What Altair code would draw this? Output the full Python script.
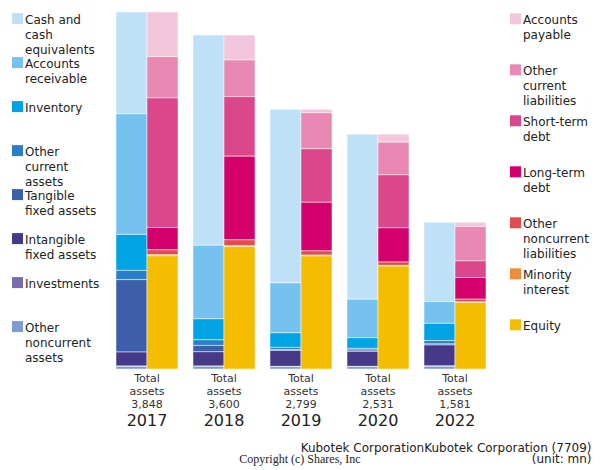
import altair as alt
import pandas as pd

# ---------------- data (millions of yen) ----------------
years = ["2017", "2018", "2019", "2020", "2022"]
total_assets = [3848, 3600, 2799, 2531, 1581]

asset_items = ["Cash and cash equivalents", "Accounts receivable", "Inventory",
               "Other current assets", "Tangible fixed assets",
               "Intangible fixed assets", "Investments", "Other noncurrent assets"]
asset_labels = ["Cash and\ncash\nequivalents", "Accounts\nreceivable", "Inventory",
                "Other\ncurrent\nassets", "Tangible\nfixed assets",
                "Intangible\nfixed assets", "Investments", "Other\nnoncurrent\nassets"]
asset_colors = ["#bfe1f7", "#76c2ee", "#00a3e4", "#2a80c8",
                "#3d5ea8", "#463a88", "#7b6aad", "#7c9bd2"]

cash = [1097, 2266, 1871, 1778, 855]
receivable = [1300, 793, 538, 416, 234]
inventory = [388, 226, 157, 115, 186]
other_current = [100, 61, 22, 18, 36]
tangible = [780, 68, 11, 14, 11]
intangible = [151, 155, 172, 162, 226]
investments = [5, 3, 3, 3, 5]
other_noncurrent = [27, 28, 25, 25, 28]
asset_values = [cash, receivable, inventory, other_current,
                tangible, intangible, investments, other_noncurrent]

liab_items = ["Accounts payable", "Other current liabilities", "Short-term debt",
              "Long-term debt", "Other noncurrent liabilities",
              "Minority interest", "Equity"]
liab_labels = ["Accounts\npayable", "Other\ncurrent\nliabilities", "Short-term\ndebt",
               "Long-term\ndebt", "Other\nnoncurrent\nliabilities",
               "Minority\ninterest", "Equity"]
liab_colors = ["#f4c6dc", "#e888b3", "#dc468b", "#d4006b",
               "#e04d4f", "#ee8c3c", "#f5bd00"]

payable = [481, 269, 37, 86, 46]
other_cur_liab = [445, 395, 388, 352, 370]
short_debt = [1397, 642, 577, 571, 179]
long_debt = [240, 901, 524, 369, 234]
other_nc_liab = [54, 65, 46, 36, 29]
minority = [11, 8, 8, 8, 5]
equity = [1220, 1320, 1219, 1109, 718]
liab_values = [payable, other_cur_liab, short_debt, long_debt,
               other_nc_liab, minority, equity]

company = "Kubotek CorporationKubotek Corporation (7709)"
unit_note = "(unit: mn)"
copyright_note = "Copyright (c) Shares, Inc"

# ---------------- tables ----------------
def build(items, values, side):
    rows = []
    for i, (item, vals) in enumerate(zip(items, values)):
        for y, v in zip(years, vals):
            rows.append({"year": y, "side": side, "item": item, "value": v, "idx": i})
    return pd.DataFrame(rows)

df_a = build(asset_items, asset_values, "A")
df_l = build(liab_items, liab_values, "L")

df_tot = pd.DataFrame({
    "year": years,
    "label": ["Total\nassets\n" + f"{t:,}" for t in total_assets],
})
leg_a = pd.DataFrame({"item": asset_items, "label": asset_labels, "idx": list(range(len(asset_items)))})
leg_l = pd.DataFrame({"item": liab_items, "label": liab_labels, "idx": list(range(len(liab_items)))})

W, H = 385, 357
FONT = "DejaVu Sans"

x_enc = alt.X("year:N", scale=alt.Scale(domain=years, paddingInner=15 / 77, paddingOuter=7.5 / 77),
              axis=None)
xo_enc = alt.XOffset("side:N", scale=alt.Scale(domain=["A", "L"], paddingInner=0, paddingOuter=0))
color = alt.Color("item:N", scale=alt.Scale(domain=asset_items + liab_items,
                                            range=asset_colors + liab_colors), legend=None)
y_enc = alt.Y("value:Q", stack="zero", scale=alt.Scale(domain=[0, max(total_assets)], nice=False),
              axis=None)


def bars(df):
    return alt.Chart(df).mark_bar(stroke="white", strokeWidth=0.5).encode(
        x=x_enc, xOffset=xo_enc, y=y_enc, color=color,
        order=alt.Order("idx:Q", sort="descending"),
    )


bars_a = bars(df_a)
bars_l = bars(df_l)

tot_text = alt.Chart(df_tot).mark_text(
    lineBreak="\n", baseline="alphabetic", align="center", fontSize=11, lineHeight=13,
    font=FONT, color="#333333"
).encode(x=x_enc, y=alt.value(370), text="label:N")

year_text = alt.Chart(df_tot).mark_text(
    baseline="alphabetic", align="center", fontSize=16, font=FONT, color="#222222"
).encode(x=x_enc, y=alt.value(413.5), text="year:N")


def legend(df, xsq, ytop, step):
    n = len(df)
    ys = alt.Y("idx:Q", scale=alt.Scale(domain=[0, n - 1], range=[ytop, ytop + step * (n - 1)]),
               axis=None)
    sq = alt.Chart(df).mark_square(size=121, opacity=1, strokeWidth=0).encode(
        x=alt.value(xsq), y=ys, color=color)
    tx = alt.Chart(df).mark_text(
        align="left", baseline="alphabetic", dy=5, lineBreak="\n", fontSize=12,
        lineHeight=15, font=FONT, color="#222222"
    ).encode(x=alt.value(xsq + 7.5), y=ys, text="label:N")
    return sq, tx


la_sq, la_tx = legend(leg_a, -91, 6.6, 44)
ll_sq, ll_tx = legend(leg_l, 407, 6.8, 51)

comp_text = alt.Chart(pd.DataFrame({"t": [company]})).mark_text(
    align="right", baseline="alphabetic", fontSize=12, font=FONT, color="#222222"
).encode(x=alt.value(483), y=alt.value(440), text="t:N")
unit_text = alt.Chart(pd.DataFrame({"t": [unit_note]})).mark_text(
    align="right", baseline="alphabetic", fontSize=12, font=FONT, color="#222222"
).encode(x=alt.value(483), y=alt.value(451), text="t:N")
copy_text = alt.Chart(pd.DataFrame({"t": [copyright_note]})).mark_text(
    align="center", baseline="alphabetic", fontSize=12, font="Liberation Serif", color="#222222"
).encode(x=alt.value(191.5), y=alt.value(451), text="t:N")

chart = alt.layer(
    bars_a, bars_l, tot_text, year_text, la_sq, la_tx, ll_sq, ll_tx,
    comp_text, unit_text, copy_text
).resolve_scale(y="independent").properties(
    width=W, height=H,
    padding={"left": 100.5, "top": 4, "right": 98.5, "bottom": 100},
    autosize=alt.AutoSizeParams(type="none"),
).configure_view(stroke=None)

chart.save("out.html", embed_options={"renderer": "svg", "actions": False})
